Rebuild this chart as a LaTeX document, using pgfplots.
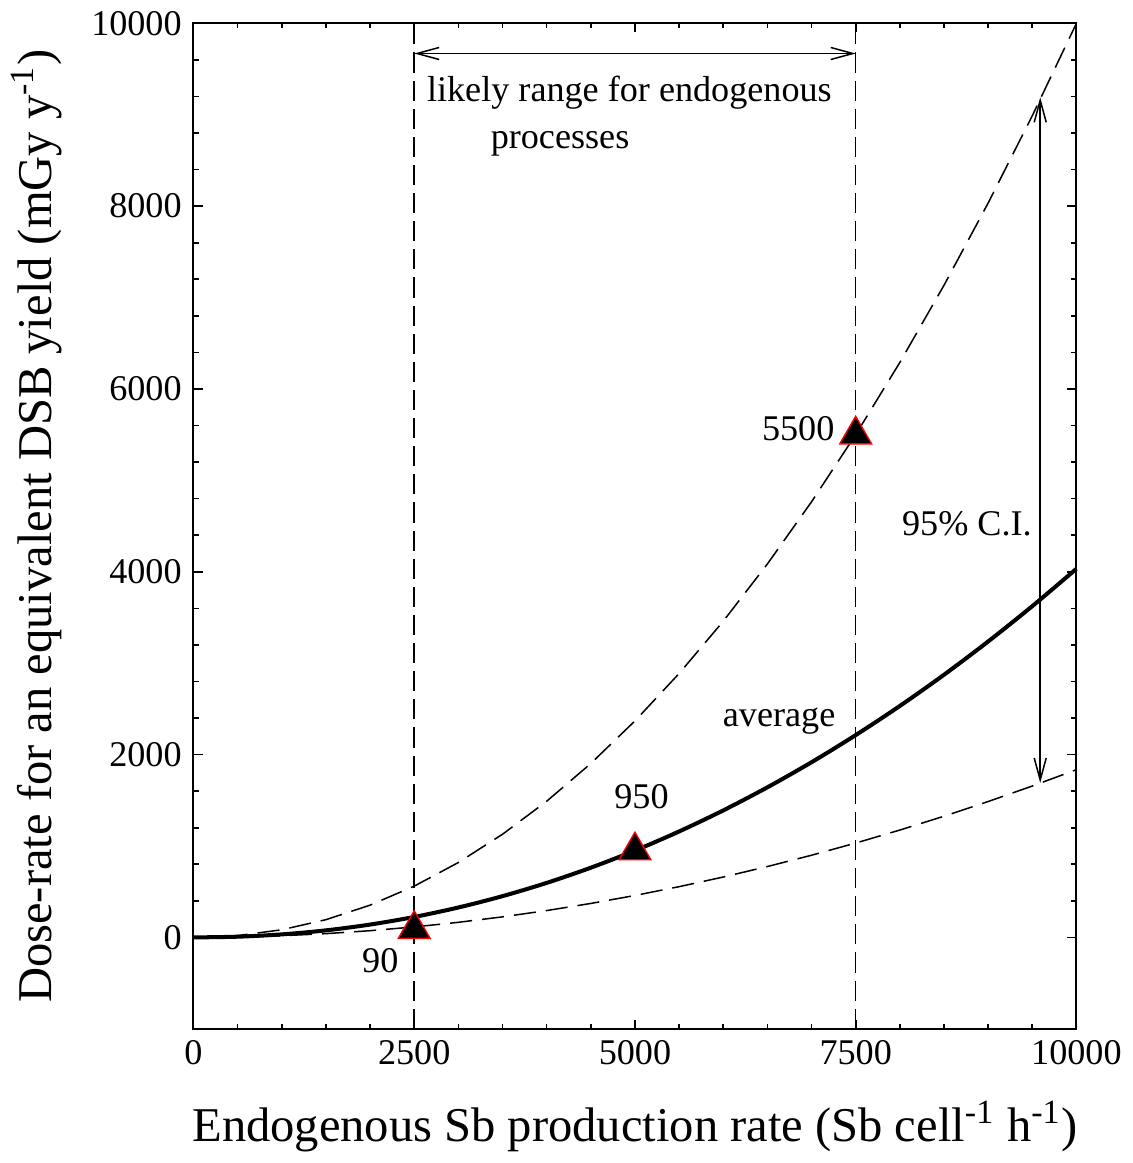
\documentclass[border=0pt]{standalone}
\usepackage{pgfplots}
\pgfplotsset{compat=1.18}
\usepackage{fontspec}
\setmainfont{Liberation Serif}
\usetikzlibrary{arrows.meta}

\begin{document}
\begin{tikzpicture}
\begin{axis}[
    scale only axis,
    width=263.7pt, height=300.3pt,
    xmin=0, xmax=10000, ymin=-1000, ymax=10000,
    xtick={0,2500,5000,7500,10000},
    ytick={0,2000,4000,6000,8000,10000},
    minor x tick num=4,
    minor y tick num=4,
    tick align=inside,
    major tick length=2.7pt,
    minor tick length=1.5pt,
    axis line style={line width=0.6pt},
    every tick/.style={black, line width=0.5pt},
    /pgf/number format/assume math mode=true,
    /pgf/number format/1000 sep={},
    scaled ticks=false,
    ticklabel style={font=\fontsize{10.8}{13}\selectfont},
    label style={font=\fontsize{14.5}{17}\selectfont},
    xlabel={Endogenous Sb production rate (Sb cell\textsuperscript{-1} h\textsuperscript{-1})},
    ylabel={Dose-rate for an equivalent DSB yield (mGy y\textsuperscript{-1})},
    xlabel style={yshift=-4pt},
    ylabel style={yshift=2pt},
    clip=false,
]
% upper 95% bound
\addplot[black, line width=0.45pt, dash pattern=on 6.6pt off 3pt] coordinates {
  (0,0) (500,19.8) (1000,83.6) (1500,194.1) (2000,352.8) (2500,560.9)
  (3000,819.4) (3500,1128.7) (4000,1489.6) (4500,1902.7) (5000,2368.5)
  (5500,2887.1) (6000,3459.2) (6500,4085.6) (7000,4765.7) (7500,5500.1)
  (8000,6289.9) (8500,7134.0) (9000,8033.6) (9500,8988.9) (10000,10000)
};
% lower 95% bound
\addplot[black, line width=0.45pt, dash pattern=on 6.6pt off 3pt] coordinates {
  (0,0) (500,4.6) (1000,18.4) (1500,41.3) (2000,73.4) (2500,114.7)
  (3000,165.2) (3500,224.8) (4000,293.6) (4500,371.6) (5000,458.8)
  (5500,555.1) (6000,660.6) (6500,775.3) (7000,899.2) (7500,1032.2)
  (8000,1174.4) (8500,1325.8) (9000,1486.4) (9500,1656.1) (10000,1835)
};
% average
\addplot[black, line width=1.2pt, smooth] coordinates {
  (0,0) (500,7.8) (1000,33.1) (1500,77.1) (2000,140.5) (2500,223.7)
  (3000,327.3) (3500,451.4) (4000,596.4) (4500,762.5) (5000,949.9)
  (5500,1158.9) (6000,1389.5) (6500,1641.9) (7000,1916.5) (7500,2213.2)
  (8000,2532.1) (8500,2873.4) (9000,3237.3) (9500,3623.8) (10000,4033)
};
% likely range limits
\addplot[black, line width=0.45pt, dash pattern=on 6pt off 2.4pt] coordinates {(2500,-1000) (2500,10000)};
\addplot[black, line width=0.45pt, dash pattern=on 6pt off 2.4pt] coordinates {(7500,-1000) (7500,10000)};
% points
\addplot[only marks, mark=triangle*, mark size=5.5pt,
  mark options={fill=black, draw=red, line width=0.4pt}] coordinates {
  (2500,90) (5000,950) (7500,5500)
};
\draw[line width=0.45pt, {Straight Barb[length=6.6pt,width=3.6pt]}-{Straight Barb[length=6.6pt,width=3.6pt]}]
  (axis cs:2500,9670) -- (axis cs:7500,9670);
\draw[line width=0.45pt, {Straight Barb[length=6.6pt,width=3.6pt]}-{Straight Barb[length=6.6pt,width=3.6pt]}]
  (axis cs:9590,9190) -- (axis cs:9590,1690);
\begin{scope}[every node/.style={font=\fontsize{10.8}{13}\selectfont, inner sep=0pt}]
\node at (axis cs:4937,9242) {likely range for endogenous};
\node at (axis cs:4152,8681) {processes};
\node at (axis cs:2116,-253) {90};
\node at (axis cs:5074,1538) {950};
\node at (axis cs:6849,5571) {5500};
\node at (axis cs:6633,2363) {average};
\node at (axis cs:8760,4527) {95\% C.I.};
\end{scope}
\end{axis}
\end{tikzpicture}
\end{document}
